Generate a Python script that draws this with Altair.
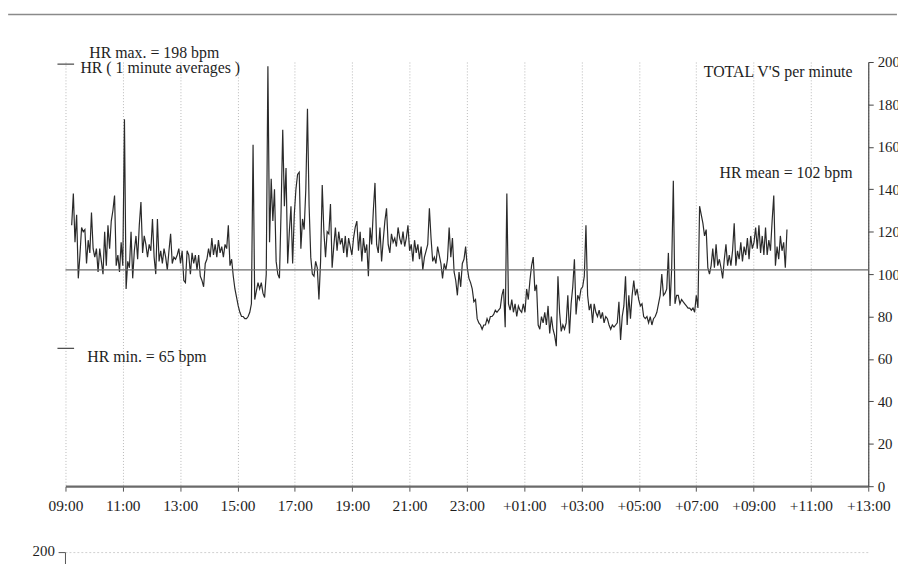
import altair as alt
import pandas as pd

# ---------------- data ----------------
# HR trace, read in consecutive segments; each segment starts at the given
# minute after 09:00 and values are spaced SAMPLE_STEP_MIN minutes apart.
SAMPLE_STEP_MIN = 3.45
SEG_START_MIN = [13.0, 258.0, 516.6, 775.3, 1034.0, 1292.5]

hr_seg1 = [123, 138, 115, 128, 98, 109, 122, 120, 121, 105,
           116, 110, 129, 112, 108, 112, 101, 112, 106, 100,
           120, 104, 123, 112, 125, 130, 137, 104, 109, 101,
           115, 104, 173, 93, 106, 103, 120, 98, 111, 118,
           107, 123, 134, 110, 118, 114, 108, 114, 111, 126,
           108, 100, 126, 106, 111, 105, 112, 108, 102, 111,
           119, 105, 108, 107, 109, 112, 105, 111, 97, 96,
           111]
hr_seg2 = [109, 100, 110, 105, 109, 102, 109, 99, 97, 94,
           105, 107, 112, 108, 117, 109, 114, 108, 116, 110,
           113, 108, 114, 112, 123, 104, 107, 99, 93, 89,
           85, 82, 80, 80, 79, 79, 80, 82, 86, 161,
           88, 92, 96, 93, 96, 91, 89, 100, 198, 115,
           145, 125, 140, 106, 100, 98, 130, 168, 132, 150,
           105, 120, 132, 105, 128, 140, 147, 148, 112, 126,
           121, 140, 178, 132, 108]
hr_seg3 = [100, 99, 106, 103, 88, 106, 142, 120, 108, 120,
           119, 133, 103, 113, 122, 111, 120, 114, 117, 110,
           118, 108, 117, 113, 109, 117, 122, 125, 111, 120,
           106, 117, 110, 114, 99, 122, 114, 130, 143, 114,
           110, 122, 106, 116, 125, 131, 114, 110, 119, 115,
           117, 113, 122, 117, 114, 120, 113, 117, 123, 111,
           114, 106, 116, 110, 114, 107, 113, 102, 108, 111,
           114, 131, 117, 106, 108]
hr_seg4 = [105, 113, 109, 105, 98, 105, 102, 107, 122, 108,
           117, 101, 97, 90, 101, 94, 105, 107, 113, 103,
           98, 96, 93, 87, 88, 79, 77, 76, 74, 76,
           76, 79, 77, 80, 80, 81, 83, 82, 83, 84,
           90, 93, 75, 138, 86, 83, 88, 82, 86, 80,
           85, 83, 82, 86, 82, 93, 88, 97, 104, 108,
           92, 95, 76, 74, 80, 77, 82, 76, 85, 72,
           80, 74, 71, 66, 99]
hr_seg5 = [82, 73, 76, 74, 77, 90, 72, 86, 94, 107,
           81, 90, 88, 93, 94, 99, 123, 90, 83, 86,
           77, 86, 82, 80, 83, 79, 82, 77, 80, 79,
           76, 74, 76, 75, 76, 77, 87, 69, 80, 85,
           99, 76, 90, 79, 90, 97, 90, 93, 88, 85,
           86, 80, 79, 80, 77, 80, 76, 79, 80, 82,
           86, 90, 100, 90, 91, 93, 110, 85, 103, 144,
           86, 90, 90, 86, 88]
hr_seg6 = [87, 86, 85, 84, 84, 83, 84, 82, 90, 84,
           132, 128, 124, 118, 121, 103, 100, 104, 112, 103,
           114, 104, 107, 103, 98, 107, 114, 104, 109, 104,
           111, 124, 104, 111, 107, 115, 106, 113, 109, 117,
           107, 118, 112, 115, 122, 112, 123, 110, 118, 109,
           122, 109, 116, 111, 125, 137, 104, 113, 107, 118,
           111, 115, 103, 121]

HR_MAX = 198
HR_MIN = 65
HR_MEAN = 102

X_TICKS_H = list(range(0, 29, 2))        # hours after 09:00
Y_TICKS = list(range(0, 201, 20))
NEXT_PANEL_TOP_LABEL = "200"             # top label of the next (cut-off) panel

# ---------------- build tables ----------------
segments = [hr_seg1, hr_seg2, hr_seg3, hr_seg4, hr_seg5, hr_seg6]
rows = []
for start, vals in zip(SEG_START_MIN, segments):
    for k, v in enumerate(vals):
        rows.append({"h": (start + k * SAMPLE_STEP_MIN) / 60.0, "hr": v})
trace = pd.DataFrame(rows)

FONT = "Liberation Serif"
TXT = "#1e1e1e"
W, H = 810, 428
ys = alt.Scale(domain=[0, 200], nice=False)
xs = alt.Scale(domain=[0, 28], nice=False)

label_expr = ("(datum.value + 9 >= 24 ? '+' : '') + "
              "(((datum.value + 9) % 24) < 10 ? '0' : '') + "
              "((datum.value + 9) % 24) + ':00'")

x_axis = alt.Axis(values=X_TICKS_H, labelExpr=label_expr, title=None,
                  labelOverlap=False, labelFlush=False,
                  grid=True, gridDash=[1, 2], gridColor="#b8b8b8", gridWidth=1,
                  domainColor="#6a6a6a", domainWidth=2.2, tickColor="#555",
                  tickSize=5, labelPadding=8, labelFont=FONT, labelFontSize=15.5,
                  labelColor=TXT)

left_axis = alt.Axis(values=Y_TICKS, title=None, orient="left",
                     labelOverlap=False,
                     grid=True, gridDash=[1, 2], gridColor="#b8b8b8", gridWidth=1,
                     domainColor="#444", domainWidth=1.2, tickColor="#444",
                     tickSize=7, labelPadding=4, labelFont=FONT, labelFontSize=15,
                     labelColor=TXT)

right_axis = alt.Axis(values=Y_TICKS, title=None, orient="right", grid=False,
                      labelOverlap=False,
                      domainColor="#444", domainWidth=1.2, tickColor="#444",
                      tickSize=5, labelPadding=4, labelFont=FONT, labelFontSize=15,
                      labelColor=TXT)

line = alt.Chart(trace).mark_line(color="#2a2a2a", strokeWidth=1.2).encode(
    x=alt.X("h:Q", scale=xs, axis=x_axis),
    y=alt.Y("hr:Q", scale=ys, axis=left_axis),
)

mean_df = pd.DataFrame({"x": [0], "x2": [28], "y": [HR_MEAN]})
mean_rule = alt.Chart(mean_df).mark_rule(color="#6a6a6a", strokeWidth=1.2).encode(
    x=alt.X("x:Q", scale=xs), x2="x2:Q",
    y=alt.Y("y:Q", scale=ys, axis=None),
)

marks_df = pd.DataFrame({"x": [-0.28, -0.28], "x2": [0.3, 0.3], "y": [HR_MAX + 1, HR_MIN]})
level_marks = alt.Chart(marks_df).mark_rule(color="#444", strokeWidth=1.2).encode(
    x=alt.X("x:Q", scale=xs), x2="x2:Q",
    y=alt.Y("y:Q", scale=ys, axis=None),
)

scan_df = pd.DataFrame({"x": [-2.0], "x2": [29.0], "y": [222.4]})
scan_line = alt.Chart(scan_df).mark_rule(color="#8a8a8a", strokeWidth=1.5).encode(
    x=alt.X("x:Q", scale=xs), x2="x2:Q",
    y=alt.Y("y:Q", scale=ys, axis=None),
)

# top edge of the next panel, visible at the bottom of the page
next_line_df = pd.DataFrame({"x": [0.0], "x2": [28.0], "y": [-31.3]})
next_line = alt.Chart(next_line_df).mark_rule(color="#d0d0d0", strokeWidth=1,
                                              strokeDash=[2, 2]).encode(
    x=alt.X("x:Q", scale=xs), x2="x2:Q",
    y=alt.Y("y:Q", scale=ys, axis=None),
)
next_tick_df = pd.DataFrame({"x": [-0.24], "x2": [0.0], "y": [-31.3]})
next_tick = alt.Chart(next_tick_df).mark_rule(color="#555", strokeWidth=1).encode(
    x=alt.X("x:Q", scale=xs), x2="x2:Q",
    y=alt.Y("y:Q", scale=ys, axis=None),
)
next_axis_df = pd.DataFrame({"x": [0.0], "y": [-31.3], "y2": [-40.0]})
next_axis = alt.Chart(next_axis_df).mark_rule(color="#555", strokeWidth=1).encode(
    x=alt.X("x:Q", scale=xs),
    y=alt.Y("y:Q", scale=ys, axis=None), y2="y2:Q",
)
next_lbl_df = pd.DataFrame({"label": [NEXT_PANEL_TOP_LABEL], "x": [-0.37], "y": [-30.4]})
next_lbl = alt.Chart(next_lbl_df).mark_text(align="right", baseline="middle", font=FONT,
                                            fontSize=15, color=TXT).encode(
    x=alt.X("x:Q", scale=xs), y=alt.Y("y:Q", scale=ys, axis=None), text="label:N")

left_txt = pd.DataFrame({
    "label": [f"HR max. = {HR_MAX} bpm", "HR ( 1 minute averages )", f"HR min. = {HR_MIN} bpm"],
    "x": [0.83, 0.52, 0.76],
    "y": [202.0, 194.8, 58.4],
})
right_txt = pd.DataFrame({
    "label": ["TOTAL V'S per minute", f"HR mean = {HR_MEAN} bpm"],
    "x": [27.45, 27.45],
    "y": [193.0, 145.3],
})
texts_l = alt.Chart(left_txt).mark_text(align="left", baseline="alphabetic", font=FONT,
                                        fontSize=16, color=TXT).encode(
    x=alt.X("x:Q", scale=xs), y=alt.Y("y:Q", scale=ys, axis=None), text="label:N")
texts_r = alt.Chart(right_txt).mark_text(align="right", baseline="alphabetic", font=FONT,
                                         fontSize=16, color=TXT).encode(
    x=alt.X("x:Q", scale=xs), y=alt.Y("y:Q", scale=ys, axis=None), text="label:N")

left_group = alt.layer(scan_line, next_line, next_tick, next_axis, next_lbl,
                       line, mean_rule, level_marks, texts_l, texts_r)

right_df = pd.DataFrame({"x": [28], "y": [0], "y2": [200]})
right_layer = alt.Chart(right_df).mark_rule(opacity=0).encode(
    x=alt.X("x:Q", scale=xs),
    y=alt.Y("y:Q", scale=ys, axis=right_axis), y2="y2:Q",
)

chart = alt.layer(left_group, right_layer).resolve_scale(y="independent").properties(
    width=W, height=H,
    autosize=alt.AutoSizeParams(type="none"),
    padding={"left": 58, "top": 52, "right": 30, "bottom": 76},
    background="#ffffff",
).configure_view(strokeWidth=0)

chart.save("out.html", embed_options={"renderer": "svg", "actions": False})
